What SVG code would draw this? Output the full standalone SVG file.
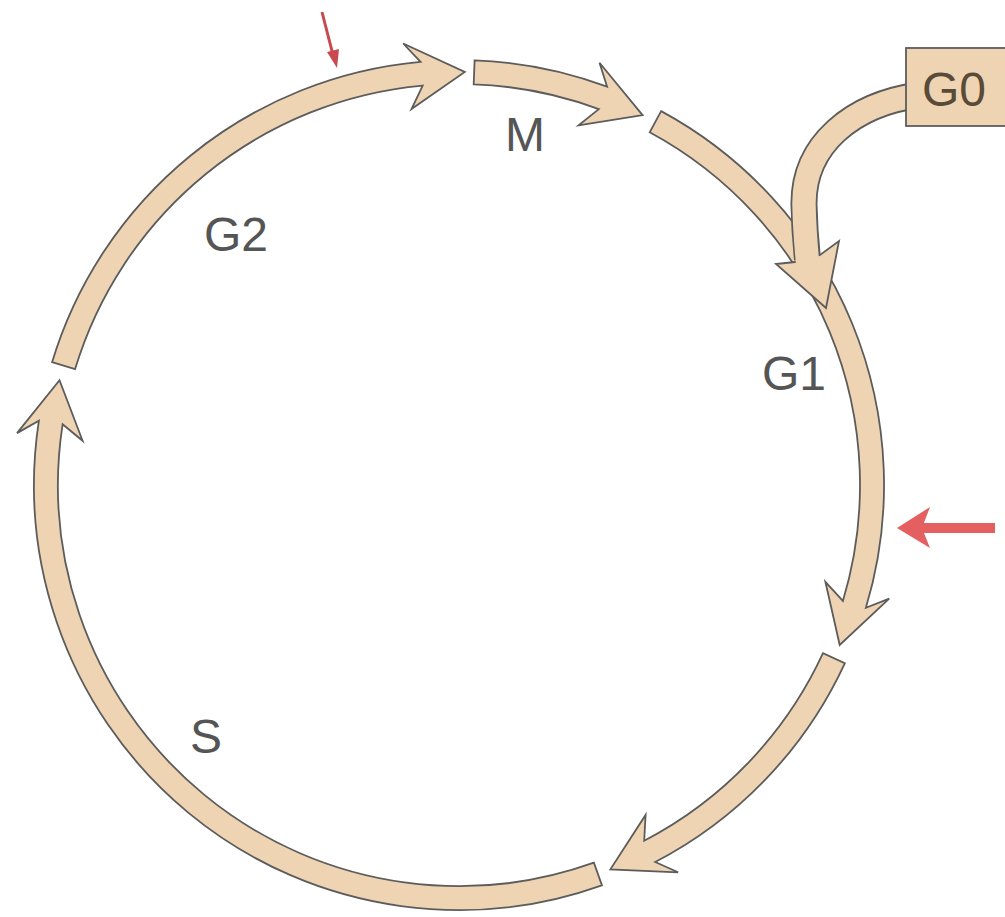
<svg xmlns="http://www.w3.org/2000/svg" width="1005" height="917" viewBox="0 0 1005 917">
  <style>
    .band { fill: #eed4b2; stroke: #5c5c5c; stroke-width: 1.8; stroke-linejoin: miter; }
    .lbl { font-family: "Liberation Sans", Arial, sans-serif; font-size: 48px; fill: #555555; }
    .g0lbl { font-family: "Liberation Sans", Arial, sans-serif; font-size: 48px; fill: #5a4a38; }
    .red { fill: #e35f60; }
  </style>
  <rect width="1005" height="917" fill="#ffffff"/>

  <g id="connectors">
    <!-- S phase arrow: bottom to left -->
    <path class="band" d="M601.9,885.3 A425,425 0 0 1 38.9,420.7 L17.0,433.1 L59.5,380.2 L82.6,440.8 L62.6,424.3 A401,401 0 0 0 593.9,862.7 Z"/>
    <!-- G2 phase arrow -->
    <path class="band" d="M52.1,362.2 A425,425 0 0 1 420.5,61.8 L403.2,43.5 L464.8,72.0 L411.5,109.0 L422.7,85.6 A401,401 0 0 0 75.1,369.1 Z"/>
    <!-- M phase arrow -->
    <path class="band" d="M474.6,60.3 A425,425 0 0 1 607.1,86.7 L599.5,62.7 L642.6,115.1 L578.6,125.4 L598.8,109.1 A401,401 0 0 0 473.7,84.3 Z"/>
    <!-- G1 phase arrow -->
    <path class="band" d="M661.1,111.1 A425,425 0 0 1 865.9,607.8 L889.2,598.7 L839.7,645.0 L825.4,581.8 L842.9,600.9 A401,401 0 0 0 649.7,132.3 Z"/>
    <!-- bottom right arrow -->
    <path class="band" d="M844.8,663.3 A425,425 0 0 1 655.2,862.0 L678.1,872.3 L610.4,869.3 L645.6,814.9 L644.2,840.7 A401,401 0 0 0 823.0,653.2 Z"/>

    <!-- G0 entry arrow -->
    <g id="g0-arrow">
      <path d="M920,95 C852,104 803,145 804,205 C804.5,230 806,245 807.5,259" fill="none" stroke="#5c5c5c" stroke-width="27"/>
      <path class="band" d="M795,262 L776,264 L826,308 L839,241 L820,255 Z"/>
      <path d="M920,95 C852,104 803,145 804,205 C804.5,230 806,245 807.5,262" fill="none" stroke="#eed4b2" stroke-width="23.4"/>
    </g>

    <!-- red arrows -->
    <g id="red-top">
      <line x1="322" y1="12" x2="333" y2="55" stroke="#c84a50" stroke-width="3"/>
      <polygon points="337,68 327,52 339,49" fill="#c84a50"/>
    </g>
    <g id="red-right">
      <rect x="918" y="523" width="77" height="10" class="red"/>
      <polygon class="red" points="897,528 930,507 922,528 930,548"/>
    </g>
  </g>

  <g id="node-G0">
    <rect x="906" y="48" width="110" height="78" class="band"/>
    <text class="g0lbl" x="922" y="106">G0</text>
  </g>
  <g id="node-G2"><text class="lbl" x="204" y="251">G2</text></g>
  <g id="node-M"><text class="lbl" x="505" y="151">M</text></g>
  <g id="node-G1"><text class="lbl" x="762" y="390">G1</text></g>
  <g id="node-S"><text class="lbl" x="190" y="753">S</text></g>
</svg>
